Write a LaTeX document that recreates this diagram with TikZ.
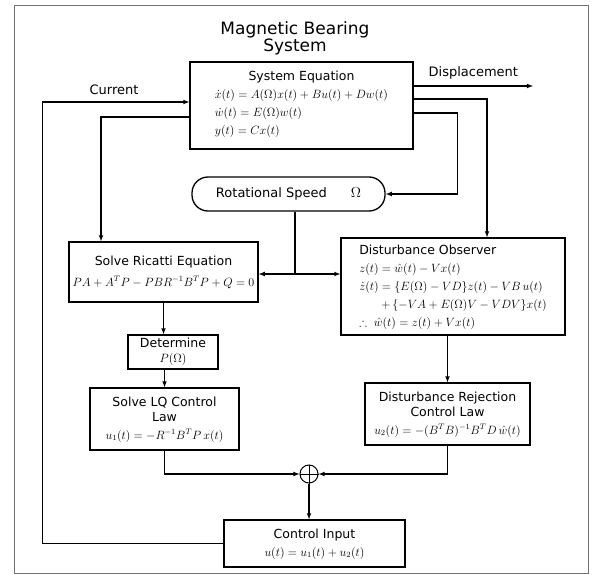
\documentclass[tikz,border=0pt]{standalone}
\usepackage{amsmath,amssymb}
\usepackage[no-math]{fontspec}
\setmainfont{DejaVu Sans}
\usetikzlibrary{arrows,calc}

\newcommand{\ttlfont}{\fontsize{12.5}{15}\selectfont}
\newcommand{\eqfont}{\fontsize{11.5}{15}\selectfont}
\renewcommand{\arraystretch}{1.2}

\begin{document}
\begin{tikzpicture}[x=1pt,y=-1pt,>=latex,
	blk/.style={draw,line width=1.3pt,inner sep=0pt},
	lbl/.style={font=\fontsize{13}{15}\selectfont}]
	\useasboundingbox (0,0) rectangle (594,575);
	\draw[black!55,line width=0.5pt] (14,5) rectangle (588,573);
	%
	\node[font=\fontsize{17}{17}\selectfont] (title) at (295,39) {\renewcommand{\arraystretch}{0.95}\begin{tabular}{@{}c@{}}Magnetic Bearing\\System\end{tabular}};
	\node[blk,minimum width=223pt,minimum height=87pt] (sys) at (301.5,105.5) {\eqfont
		\begin{tabular}{@{}l@{}}
		\multicolumn{1}{@{}c@{}}{\ttlfont System Equation}\\
		$\dot{x}(t) = A(\Omega)x(t) + Bu(t) + Dw(t)$\\
		$\dot{w}(t) = E(\Omega)w(t)$\\
		$y(t) = Cx(t)$\\[4pt]
		\end{tabular}};
	\node[blk,rounded corners=16pt,minimum width=193pt,minimum height=34pt,font=\fontsize{13}{15}\selectfont] (rot) at (288.5,194)
		{Rotational Speed\hspace{24pt}{\fontsize{14}{15}\selectfont$\Omega$}};
	\node[blk,minimum width=189pt,minimum height=60pt] (ric) at (163.5,272) {\eqfont
		\begin{tabular}{@{}c@{}}
		{\ttlfont Solve Ricatti Equation}\\[3pt]
		$PA + A^{T}P - PBR^{-1}B^{T}P + Q = 0$
		\end{tabular}};
	\node[blk,minimum width=90pt,minimum height=34pt] (det) at (173,352) {\eqfont
		\renewcommand{\arraystretch}{1}\begin{tabular}{@{}c@{}}
		{\ttlfont Determine}\\
		$P(\Omega)$
		\end{tabular}};
	\node[blk,minimum width=149pt,minimum height=62pt] (lq) at (164.5,419) {\eqfont
		\begin{tabular}{@{}c@{}}
		{\ttlfont Solve LQ Control}\\[-3pt]
		{\ttlfont Law}\\
		$u_1(t) = -R^{-1}B^{T}P\,x(t)$
		\end{tabular}};
	\node[blk,minimum width=224pt,minimum height=97pt] (do) at (453,286.5) {\eqfont
		\begin{tabular}{@{}l@{}}
		{\ttlfont Disturbance Observer}\\
		$z(t) = \hat{w}(t) - Vx(t)$\\
		$\dot{z}(t) = \{E(\Omega) - VD\}z(t) - VB\,u(t)$\\
		\hspace*{22pt}$+\,\{-VA + E(\Omega)V - VDV\}x(t)$\\
		$\therefore\ \hat{w}(t) = z(t) + Vx(t)$
		\end{tabular}};
	\node[blk,minimum width=165pt,minimum height=62pt] (dr) at (447.5,414) {\eqfont
		\begin{tabular}{@{}c@{}}
		{\ttlfont Disturbance Rejection}\\[-3pt]
		{\ttlfont Control Law}\\
		$u_2(t) = -(B^{T}B)^{-1}B^{T}D\,\hat{w}(t)$
		\end{tabular}};
	\node[draw,circle,line width=1pt,minimum size=18pt,inner sep=0pt] (sum) at (309,474) {};
	\node[blk,minimum width=181pt,minimum height=47pt] (ci) at (314.5,543.5) {\eqfont
		\begin{tabular}{@{}c@{}}
		{\ttlfont Control Input}\\
		$u(t) = u_1(t) + u_2(t)$
		\end{tabular}};
	\coordinate (dsp) at (533,86);
	\coordinate (jn) at (295,274);
	%
	\draw[line width=0.8pt] (sum.north) -- (sum.south) (sum.west) -- (sum.east);
	\path[->,line width=1.1pt]
	% outputs of the system
	(sys.east |- dsp) edge node[lbl,above=3pt]{Displacement} (dsp)
	([yshift=6.5pt]sys.east) edge[to path={-| (\tikztotarget)}] ([xshift=34pt]do.north)
	([yshift=-7.5pt]sys.east) edge[to path={-- ++(44,0) |- (\tikztotarget)}] (rot.east)
	([yshift=-11.5pt]sys.west) edge[to path={-| (\tikztotarget)}] ([xshift=-62.5pt]ric.north)
	% speed to both branches
	(jn) edge (jn -| ric.east)
	(jn) edge (jn -| do.west)
	% left branch
	(ric.south) edge (ric.south |- det.north)
	(det.south -| lq.north) edge (lq.north)
	(lq.south) edge[to path={|- (\tikztotarget)}] (sum.west)
	% right branch
	(do.south -| dr.north) edge (dr.north)
	(dr.south) edge[to path={|- (\tikztotarget)}] (sum.east)
	% sum to input, input back to the system
	(sum.south) edge (sum.south |- ci.north)
	(ci.west) edge[to path={-- ++(-181,0) |- (\tikztotarget)}] ([yshift=3.5pt]sys.west);
	\draw[line width=1.1pt] ([xshift=6.5pt]rot.south) -- (jn);
	\node[lbl] (cur) at (114,90) {Current};
\end{tikzpicture}
\end{document}
